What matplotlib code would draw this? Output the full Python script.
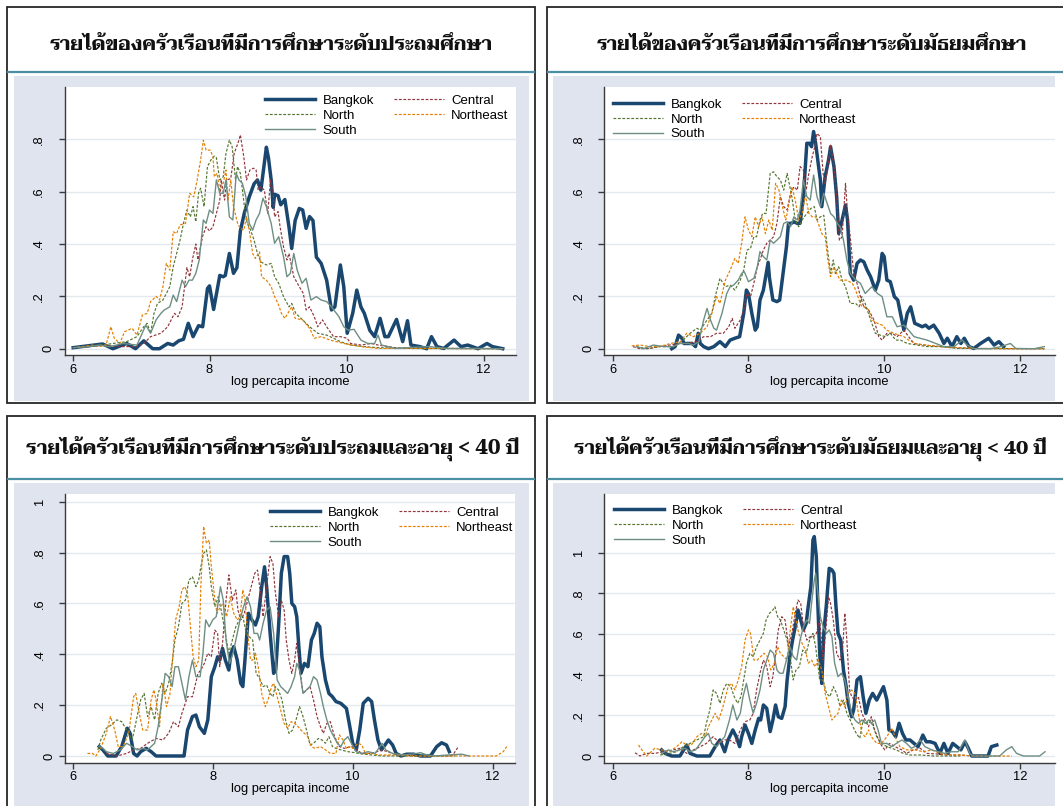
import matplotlib
matplotlib.use("Agg")
import matplotlib.pyplot as plt
from matplotlib import font_manager, ft2font
from matplotlib.patches import Rectangle
from matplotlib.lines import Line2D
from matplotlib.transforms import ScaledTranslation

# ---------------------------------------------------------------- data
# Kernel density of log per-capita household income, by region.
# Each series is a list of (log income, density) points.

region_names = ["Bangkok", "Central", "North", "Northeast", "South"]
x_ticks = [6, 8, 10, 12]
x_tick_labels = ["6", "8", "10", "12"]
y_ticks_small = [0, 0.2, 0.4, 0.6, 0.8]
y_ticks_large = [0, 0.2, 0.4, 0.6, 0.8, 1.0]
y_tick_labels_small = ["0", ".2", ".4", ".6", ".8"]
y_tick_labels_large = ["0", ".2", ".4", ".6", ".8", "1"]
x_title = "log percapita income"

titles = [
    "รายได้ของครัวเรือนที่มีการศึกษาระดับประถมศึกษา",
    "รายได้ของครัวเรือนที่มีการศึกษาระดับมัธยมศึกษา",
    "รายได้ครัวเรือนที่มีการศึกษาระดับประถมและอายุ < 40 ปี",
    "รายได้ครัวเรือนที่มีการศึกษาระดับมัธยมและอายุ < 40 ปี",
]

# --- primary education, all ages
tl_bangkok = [(6.01,.004),(6.44,.018),(6.59,0),(6.79,.02),(6.92,0),(7.04,.03),(7.17,0),(7.27,0),(7.39,.02),(7.47,.014),(7.55,.03),(7.62,.036),(7.69,.097),(7.76,.046),(7.84,.088),(7.9,.084),(7.97,.23),(8.0,.24),(8.06,.15),(8.15,.28),(8.2,.275),(8.23,.28),(8.29,.364),(8.35,.288),(8.4,.31),(8.45,.45),(8.51,.52),(8.58,.58),(8.65,.63),(8.7,.645),(8.75,.606),(8.83,.77),(8.86,.73),(8.9,.645),(8.93,.54),(8.95,.59),(9.0,.585),(9.04,.55),(9.1,.57),(9.16,.465),(9.2,.383),(9.25,.49),(9.31,.536),(9.36,.53),(9.41,.46),(9.46,.505),(9.51,.49),(9.56,.35),(9.63,.326),(9.71,.262),(9.78,.148),(9.83,.16),(9.91,.32),(9.96,.237),(10.01,.059),(10.09,.135),(10.15,.224),(10.21,.16),(10.26,.135),(10.34,.07),(10.41,.046),(10.49,.116),(10.56,.046),(10.61,.046),(10.73,.112),(10.82,.027),(10.89,.107),(10.94,.014),(11.07,.008),(11.17,0),(11.24,.046),(11.32,.008),(11.42,.001),(11.57,.033),(11.67,.008),(11.77,.014),(11.92,0),(12.05,.02),(12.13,.008),(12.28,0)]
tl_central = [(6.01,.004),(6.24,.008),(6.44,.014),(6.69,.008),(6.94,.008),(7.04,.02),(7.14,.046),(7.29,.059),(7.39,.084),(7.44,.11),(7.49,.135),(7.54,.122),(7.6,.16),(7.67,.31),(7.71,.275),(7.75,.34),(7.8,.40),(7.83,.34),(7.9,.43),(7.95,.466),(8.0,.45),(8.05,.466),(8.1,.517),(8.15,.568),(8.17,.645),(8.22,.568),(8.25,.645),(8.31,.65),(8.36,.746),(8.43,.797),(8.45,.817),(8.5,.734),(8.54,.645),(8.59,.683),(8.64,.69),(8.68,.683),(8.71,.606),(8.75,.619),(8.8,.606),(8.85,.517),(8.89,.645),(8.93,.594),(8.95,.504),(9.0,.524),(9.03,.466),(9.08,.39),(9.13,.339),(9.16,.364),(9.23,.275),(9.31,.237),(9.37,.211),(9.41,.148),(9.46,.16),(9.53,.122),(9.58,.084),(9.65,.11),(9.71,.084),(9.81,.046),(9.91,.046),(10.01,.04),(10.06,.02),(10.21,.014),(10.36,.02),(10.46,.014),(10.71,.004),(10.97,.001),(11.47,.001),(12.28,0)]
tl_north = [(6.01,.004),(6.19,.008),(6.44,.014),(6.59,.02),(6.79,.027),(6.94,.046),(7.04,.084),(7.09,.097),(7.14,.059),(7.19,.135),(7.24,.173),(7.32,.186),(7.37,.211),(7.42,.237),(7.47,.313),(7.52,.364),(7.57,.415),(7.62,.479),(7.67,.53),(7.72,.504),(7.76,.543),(7.8,.485),(7.84,.594),(7.87,.613),(7.92,.543),(7.97,.696),(8.02,.721),(8.07,.736),(8.1,.73),(8.15,.645),(8.2,.657),(8.24,.746),(8.29,.797),(8.33,.772),(8.38,.645),(8.41,.696),(8.45,.67),(8.51,.543),(8.55,.479),(8.6,.453),(8.65,.415),(8.7,.364),(8.75,.332),(8.83,.32),(8.9,.326),(8.95,.275),(9.01,.25),(9.08,.199),(9.16,.16),(9.2,.173),(9.26,.135),(9.36,.11),(9.46,.084),(9.58,.059),(9.71,.052),(9.81,.04),(9.91,.027),(10.06,.014),(10.26,.008),(10.46,.004),(10.96,.001),(12.28,0)]
tl_northeast = [(6.01,.004),(6.14,.008),(6.29,.014),(6.39,.008),(6.49,.014),(6.56,.084),(6.61,.04),(6.69,.02),(6.76,.065),(6.87,.078),(6.94,.052),(7.02,.129),(7.09,.135),(7.14,.18),(7.22,.2),(7.27,.186),(7.32,.237),(7.37,.326),(7.42,.3),(7.47,.447),(7.52,.44),(7.57,.473),(7.65,.479),(7.71,.594),(7.77,.58),(7.82,.645),(7.87,.721),(7.91,.797),(7.95,.759),(8.01,.759),(8.05,.734),(8.07,.657),(8.11,.67),(8.15,.606),(8.2,.632),(8.24,.683),(8.27,.568),(8.31,.645),(8.35,.543),(8.41,.479),(8.45,.46),(8.5,.453),(8.54,.504),(8.58,.453),(8.63,.364),(8.67,.345),(8.73,.37),(8.76,.275),(8.83,.262),(8.9,.237),(8.95,.199),(9.0,.173),(9.05,.135),(9.1,.116),(9.2,.16),(9.25,.116),(9.36,.11),(9.46,.078),(9.53,.04),(9.63,.046),(9.76,.033),(9.96,.02),(10.21,.008),(10.46,.001),(10.96,.001),(12.28,0)]
tl_south = [(6.01,.004),(6.24,.008),(6.39,.014),(6.54,.008),(6.74,.02),(6.94,.014),(7.07,.09),(7.14,.059),(7.22,.11),(7.29,.135),(7.34,.148),(7.42,.16),(7.47,.205),(7.52,.18),(7.6,.262),(7.65,.237),(7.7,.262),(7.75,.262),(7.8,.288),(7.85,.339),(7.91,.492),(7.95,.479),(8.0,.53),(8.05,.517),(8.1,.645),(8.15,.594),(8.2,.594),(8.24,.645),(8.29,.504),(8.34,.492),(8.39,.67),(8.43,.645),(8.48,.632),(8.53,.581),(8.58,.479),(8.63,.453),(8.68,.492),(8.73,.517),(8.78,.575),(8.83,.543),(8.9,.479),(8.95,.403),(9.01,.428),(9.08,.352),(9.13,.275),(9.18,.288),(9.23,.364),(9.28,.3),(9.35,.25),(9.41,.269),(9.48,.186),(9.56,.199),(9.63,.186),(9.71,.18),(9.78,.16),(9.89,.122),(9.96,.084),(10.02,.071),(10.11,.074),(10.21,.033),(10.31,.02),(10.41,.02),(10.46,.052),(10.51,.014),(10.71,.001),(10.96,.005),(11.21,.008),(11.47,.001),(11.97,.001),(12.28,0)]

# --- secondary education, all ages
tr_bangkok = [(6.87,0),(6.92,.008),(6.97,.052),(7.02,.04),(7.05,.02),(7.1,.02),(7.17,.02),(7.22,.008),(7.26,.059),(7.29,.02),(7.34,.008),(7.41,0),(7.49,.008),(7.58,.027),(7.66,.008),(7.73,.033),(7.8,.04),(7.87,.046),(7.93,.135),(7.97,.224),(8.0,.21),(8.05,.135),(8.1,.071),(8.13,.084),(8.17,.186),(8.22,.224),(8.29,.33),(8.31,.27),(8.36,.186),(8.42,.18),(8.46,.186),(8.51,.288),(8.56,.39),(8.59,.479),(8.63,.479),(8.67,.485),(8.72,.479),(8.76,.479),(8.81,.58),(8.86,.785),(8.9,.785),(8.93,.772),(8.96,.83),(8.99,.785),(9.04,.683),(9.06,.645),(9.08,.543),(9.13,.657),(9.18,.721),(9.21,.772),(9.26,.696),(9.3,.58),(9.33,.44),(9.38,.492),(9.43,.549),(9.46,.492),(9.5,.288),(9.55,.262),(9.6,.326),(9.65,.339),(9.7,.332),(9.75,.3),(9.8,.275),(9.87,.224),(9.92,.262),(9.97,.364),(10.0,.352),(10.04,.262),(10.09,.256),(10.15,.199),(10.2,.186),(10.24,.135),(10.29,.071),(10.34,.135),(10.39,.16),(10.45,.097),(10.51,.09),(10.56,.084),(10.61,.09),(10.66,.078),(10.73,.09),(10.81,.059),(10.88,.02),(10.93,.04),(11.0,.008),(11.07,.046),(11.13,.02),(11.18,.04),(11.25,.008),(11.32,.001),(11.42,.02),(11.54,.04),(11.62,.014),(11.69,.027),(11.76,.008)]
tr_central = [(6.3,.008),(6.4,0),(6.55,.001),(6.69,.008),(6.84,.014),(6.98,.02),(7.08,.02),(7.24,.027),(7.34,.046),(7.44,.046),(7.53,.059),(7.63,.059),(7.71,.084),(7.76,.116),(7.8,.078),(7.88,.11),(7.93,.148),(7.98,.211),(8.03,.198),(8.09,.262),(8.13,.313),(8.17,.339),(8.22,.377),(8.27,.403),(8.32,.415),(8.37,.428),(8.42,.479),(8.47,.581),(8.52,.543),(8.57,.53),(8.62,.594),(8.67,.619),(8.72,.606),(8.76,.696),(8.81,.683),(8.85,.606),(8.89,.67),(8.94,.734),(8.99,.785),(9.01,.823),(9.06,.81),(9.1,.67),(9.13,.632),(9.17,.696),(9.21,.778),(9.26,.696),(9.3,.58),(9.34,.415),(9.38,.428),(9.43,.632),(9.46,.517),(9.5,.428),(9.55,.288),(9.6,.25),(9.65,.199),(9.7,.16),(9.77,.148),(9.85,.11),(9.92,.046),(9.97,.033),(10.04,.059),(10.12,.059),(10.19,.046),(10.29,.071),(10.36,.046),(10.44,.02),(10.59,.014),(10.83,.008),(11.08,.004),(11.32,.001),(11.82,0),(12.36,0)]
tr_north = [(6.35,.008),(6.5,0),(6.69,.008),(6.89,.008),(7.04,.033),(7.14,.059),(7.24,.078),(7.29,.071),(7.39,.11),(7.46,.135),(7.51,.199),(7.58,.269),(7.66,.237),(7.73,.243),(7.8,.224),(7.88,.262),(7.93,.3),(7.98,.377),(8.03,.383),(8.08,.428),(8.12,.428),(8.17,.492),(8.21,.517),(8.26,.517),(8.32,.67),(8.37,.676),(8.42,.657),(8.47,.645),(8.52,.606),(8.57,.67),(8.59,.645),(8.64,.58),(8.69,.492),(8.74,.466),(8.79,.492),(8.86,.517),(8.92,.536),(8.97,.543),(9.01,.492),(9.06,.504),(9.11,.51),(9.16,.39),(9.21,.288),(9.25,.339),(9.28,.288),(9.33,.313),(9.38,.262),(9.43,.237),(9.5,.173),(9.58,.173),(9.63,.16),(9.67,.199),(9.72,.173),(9.8,.11),(9.87,.059),(9.94,.052),(10.02,.046),(10.09,.059),(10.17,.033),(10.24,.033),(10.34,.02),(10.49,.014),(10.63,.008),(10.83,.008),(11.08,.001),(11.32,.001),(12.36,0)]
tr_northeast = [(6.28,.011),(6.4,.014),(6.55,.008),(6.69,.008),(6.85,.02),(7.0,.027),(7.09,.059),(7.19,.046),(7.29,.059),(7.39,.084),(7.46,.135),(7.53,.199),(7.58,.173),(7.66,.262),(7.73,.3),(7.8,.345),(7.85,.326),(7.9,.403),(7.95,.504),(8.0,.453),(8.05,.428),(8.1,.504),(8.15,.466),(8.2,.504),(8.25,.44),(8.3,.492),(8.35,.453),(8.4,.632),(8.45,.606),(8.5,.543),(8.55,.492),(8.59,.543),(8.64,.619),(8.69,.568),(8.74,.492),(8.79,.517),(8.84,.587),(8.89,.517),(8.94,.504),(8.99,.504),(9.03,.479),(9.08,.44),(9.13,.428),(9.17,.339),(9.21,.275),(9.26,.313),(9.3,.288),(9.35,.262),(9.4,.262),(9.45,.262),(9.53,.25),(9.58,.224),(9.63,.186),(9.67,.16),(9.72,.16),(9.77,.148),(9.82,.11),(9.9,.097),(9.97,.09),(10.04,.071),(10.14,.059),(10.22,.052),(10.29,.046),(10.36,.033),(10.46,.02),(10.59,.014),(10.83,.008),(11.32,.001),(11.82,0),(12.36,0)]
tr_south = [(6.35,.008),(6.45,0),(6.6,.014),(6.75,.008),(6.89,.008),(6.99,.02),(7.12,.02),(7.19,.014),(7.27,.027),(7.34,.11),(7.39,.154),(7.44,.11),(7.49,.078),(7.53,.071),(7.61,.135),(7.68,.211),(7.73,.237),(7.78,.243),(7.85,.262),(7.9,.288),(7.94,.294),(8.0,.256),(8.08,.269),(8.13,.313),(8.17,.371),(8.22,.352),(8.27,.339),(8.32,.415),(8.37,.403),(8.42,.415),(8.47,.428),(8.52,.479),(8.57,.485),(8.62,.466),(8.67,.504),(8.72,.492),(8.76,.53),(8.81,.645),(8.86,.581),(8.91,.568),(8.96,.664),(9.01,.581),(9.06,.543),(9.11,.594),(9.16,.555),(9.21,.517),(9.26,.504),(9.31,.479),(9.35,.466),(9.4,.415),(9.45,.339),(9.5,.288),(9.58,.262),(9.65,.25),(9.72,.211),(9.82,.237),(9.9,.211),(9.97,.199),(10.04,.122),(10.12,.122),(10.19,.084),(10.29,.09),(10.36,.071),(10.44,.046),(10.54,.039),(10.63,.033),(10.76,.02),(10.88,.008),(11.03,.008),(11.15,.033),(11.22,.014),(11.32,0),(11.57,0),(11.72,.008),(11.86,.02),(11.94,.001),(12.21,0),(12.36,.008)]

# --- primary education, head aged under 40
bl_bangkok = [(6.38,.037),(6.43,.024),(6.5,0),(6.62,0),(6.7,.037),(6.78,.109),(6.82,.089),(6.87,.01),(6.92,0),(6.97,.017),(7.05,.03),(7.12,.017),(7.19,0),(7.59,0),(7.64,.102),(7.71,.155),(7.76,.161),(7.81,.115),(7.88,.089),(7.93,.142),(7.98,.312),(8.03,.351),(8.07,.39),(8.1,.377),(8.14,.423),(8.18,.377),(8.23,.338),(8.26,.404),(8.3,.43),(8.35,.377),(8.4,.286),(8.43,.273),(8.46,.377),(8.51,.561),(8.56,.535),(8.61,.515),(8.65,.548),(8.7,.666),(8.74,.744),(8.77,.666),(8.82,.482),(8.87,.325),(8.9,.338),(8.94,.508),(8.98,.718),(9.02,.784),(9.07,.784),(9.1,.718),(9.13,.6),(9.17,.587),(9.2,.548),(9.23,.43),(9.26,.325),(9.31,.364),(9.36,.351),(9.41,.456),(9.45,.482),(9.49,.522),(9.53,.508),(9.56,.39),(9.61,.299),(9.66,.246),(9.71,.233),(9.76,.214),(9.83,.207),(9.91,.187),(9.95,.128),(10.0,.05),(10.05,.024),(10.1,.102),(10.15,.207),(10.22,.227),(10.27,.214),(10.31,.142),(10.36,.063),(10.41,.024),(10.46,.043),(10.51,.063),(10.57,.043),(10.62,.01),(10.69,0),(10.77,.007),(10.87,.007),(10.97,0),(11.11,0),(11.2,.037),(11.27,.052),(11.34,.043),(11.38,.017)]
bl_central = [(6.48,.01),(6.63,0),(6.77,.01),(6.87,.024),(6.97,.03),(7.07,.05),(7.19,.069),(7.29,.063),(7.37,.089),(7.44,.135),(7.51,.115),(7.56,.168),(7.64,.233),(7.71,.233),(7.79,.325),(7.83,.338),(7.88,.364),(7.93,.404),(7.98,.39),(8.03,.495),(8.07,.482),(8.1,.351),(8.14,.443),(8.19,.613),(8.23,.712),(8.28,.613),(8.33,.653),(8.36,.574),(8.4,.535),(8.45,.561),(8.5,.613),(8.55,.666),(8.6,.718),(8.64,.731),(8.67,.666),(8.72,.548),(8.77,.666),(8.82,.784),(8.86,.757),(8.89,.653),(8.94,.548),(8.98,.613),(9.02,.574),(9.05,.456),(9.09,.377),(9.13,.325),(9.17,.377),(9.2,.443),(9.24,.351),(9.29,.246),(9.34,.26),(9.39,.273),(9.44,.22),(9.49,.155),(9.54,.115),(9.58,.089),(9.63,.128),(9.68,.135),(9.74,.076),(9.81,.037),(9.88,.03),(9.98,.037),(10.05,.026),(10.13,.01),(10.27,.01),(10.42,.024),(10.57,.01),(10.67,.004),(10.87,0),(11.36,0),(11.43,.004),(11.51,.037)]
bl_north = [(6.36,.024),(6.4,.063),(6.48,.109),(6.55,.122),(6.63,.142),(6.7,.135),(6.77,.102),(6.85,.063),(6.91,.142),(6.97,.22),(7.02,.246),(7.07,.155),(7.12,.194),(7.17,.142),(7.22,.246),(7.27,.286),(7.32,.246),(7.37,.286),(7.42,.364),(7.46,.456),(7.51,.508),(7.56,.6),(7.61,.613),(7.66,.692),(7.71,.705),(7.76,.666),(7.8,.692),(7.83,.744),(7.87,.797),(7.91,.81),(7.95,.744),(7.98,.666),(8.03,.587),(8.08,.626),(8.13,.561),(8.18,.482),(8.23,.404),(8.28,.456),(8.33,.508),(8.38,.535),(8.43,.548),(8.48,.482),(8.52,.469),(8.57,.456),(8.62,.325),(8.67,.305),(8.72,.273),(8.77,.279),(8.82,.246),(8.86,.233),(8.89,.273),(8.94,.26),(8.99,.22),(9.04,.142),(9.09,.089),(9.14,.102),(9.19,.142),(9.24,.194),(9.29,.155),(9.34,.102),(9.39,.043),(9.44,.05),(9.51,.069),(9.56,.063),(9.61,.05),(9.66,.076),(9.71,.037),(9.76,.03),(9.83,.024),(9.93,.017),(10.03,.013),(10.13,.008),(10.27,.004),(10.42,0),(10.87,0),(11.27,0),(11.46,0)]
bl_northeast = [(6.21,.01),(6.28,.01),(6.33,0),(6.4,.03),(6.48,.089),(6.54,.155),(6.6,.102),(6.65,.037),(6.72,.037),(6.8,.089),(6.87,.233),(6.9,.246),(6.95,.168),(7.0,.102),(7.07,.102),(7.12,.22),(7.16,.26),(7.19,.22),(7.24,.115),(7.29,.286),(7.34,.194),(7.39,.246),(7.44,.43),(7.47,.535),(7.52,.587),(7.56,.653),(7.6,.666),(7.64,.64),(7.69,.482),(7.72,.39),(7.76,.351),(7.8,.377),(7.83,.666),(7.87,.902),(7.91,.836),(7.95,.849),(7.98,.744),(8.02,.64),(8.06,.561),(8.11,.587),(8.15,.6),(8.2,.548),(8.25,.626),(8.3,.561),(8.35,.535),(8.39,.548),(8.43,.653),(8.46,.613),(8.5,.482),(8.54,.377),(8.57,.377),(8.61,.404),(8.65,.351),(8.7,.246),(8.75,.194),(8.79,.22),(8.84,.273),(8.87,.286),(8.92,.233),(8.97,.181),(9.02,.128),(9.07,.109),(9.12,.135),(9.17,.128),(9.22,.115),(9.26,.102),(9.31,.089),(9.36,.076),(9.41,.037),(9.46,.03),(9.54,.037),(9.61,.024),(9.68,.01),(9.76,.01),(9.81,.083),(9.86,.063),(9.91,.03),(9.95,.037),(10.0,.03),(10.08,.05),(10.13,.043),(10.18,.01),(10.27,.01),(10.37,.004),(10.62,.004),(10.87,0),(11.61,0),(12.05,0),(12.15,.017),(12.2,.037)]
bl_south = [(6.38,.037),(6.43,.03),(6.48,.017),(6.58,.01),(6.68,.024),(6.77,.05),(6.85,.037),(6.92,.024),(7.0,.03),(7.07,.024),(7.12,.037),(7.17,.05),(7.22,.115),(7.28,.233),(7.32,.325),(7.37,.312),(7.42,.273),(7.46,.351),(7.51,.351),(7.56,.286),(7.61,.22),(7.66,.312),(7.71,.377),(7.76,.312),(7.82,.312),(7.86,.404),(7.9,.535),(7.95,.508),(8.0,.535),(8.05,.548),(8.11,.666),(8.15,.613),(8.19,.456),(8.24,.364),(8.29,.404),(8.34,.469),(8.39,.535),(8.44,.587),(8.49,.626),(8.54,.587),(8.59,.482),(8.64,.482),(8.67,.456),(8.72,.522),(8.77,.574),(8.82,.587),(8.87,.482),(8.92,.299),(8.97,.273),(9.02,.26),(9.07,.246),(9.12,.273),(9.17,.312),(9.2,.364),(9.24,.338),(9.29,.246),(9.34,.26),(9.39,.273),(9.44,.312),(9.49,.299),(9.54,.246),(9.58,.194),(9.63,.142),(9.68,.102),(9.73,.076),(9.78,.05),(9.83,.037),(9.88,.063),(9.93,.076),(9.98,.05),(10.05,.017),(10.13,.01),(10.22,.017),(10.32,.01),(10.42,.05),(10.47,.024),(10.57,.01),(10.72,.004),(10.87,.008),(10.97,.013),(11.06,.004),(11.16,0),(11.36,.004),(11.56,.007),(11.66,0)]

# --- secondary education, head aged under 40
br_bangkok = [(6.72,.03),(6.77,.013),(6.87,0),(6.99,0),(7.09,.054),(7.14,.013),(7.24,0),(7.43,0),(7.51,.046),(7.58,.079),(7.65,.021),(7.7,.079),(7.77,.128),(7.82,.095),(7.87,.046),(7.9,.095),(7.95,.152),(8.0,.111),(8.05,.062),(8.1,.128),(8.15,.185),(8.18,.177),(8.22,.251),(8.27,.234),(8.32,.12),(8.36,.177),(8.4,.251),(8.44,.193),(8.49,.185),(8.54,.243),(8.57,.374),(8.61,.489),(8.65,.57),(8.69,.636),(8.73,.718),(8.77,.669),(8.81,.62),(8.85,.652),(8.88,.734),(8.92,.833),(8.95,1.062),(8.97,1.079),(9.0,.98),(9.02,.767),(9.05,.505),(9.08,.357),(9.11,.603),(9.15,.751),(9.19,.923),(9.23,.915),(9.26,.898),(9.29,.734),(9.32,.603),(9.36,.57),(9.4,.423),(9.44,.341),(9.47,.259),(9.52,.193),(9.55,.226),(9.6,.374),(9.65,.39),(9.69,.292),(9.73,.21),(9.78,.275),(9.83,.308),(9.89,.275),(9.94,.308),(9.99,.341),(10.04,.275),(10.07,.128),(10.12,.12),(10.17,.095),(10.22,.161),(10.27,.111),(10.32,.079),(10.38,.079),(10.44,.062),(10.5,.046),(10.57,.103),(10.62,.07),(10.68,.07),(10.75,.062),(10.82,.013),(10.88,.062),(10.94,.013),(11.01,.062),(11.07,.046),(11.13,.03),(11.19,.07),(11.24,.038),(11.29,0),(11.53,0),(11.58,.046),(11.66,.054)]
br_central = [(6.33,.016),(6.4,0),(6.5,.013),(6.62,.013),(6.75,.021),(6.89,.03),(6.99,.038),(7.09,.013),(7.19,.03),(7.29,.046),(7.38,.062),(7.48,.095),(7.58,.062),(7.65,.079),(7.72,.079),(7.8,.062),(7.88,.128),(7.95,.169),(8.02,.177),(8.07,.21),(8.12,.325),(8.17,.407),(8.22,.472),(8.27,.439),(8.32,.341),(8.36,.39),(8.4,.505),(8.44,.62),(8.49,.685),(8.54,.669),(8.59,.538),(8.64,.603),(8.69,.702),(8.73,.767),(8.77,.751),(8.81,.636),(8.86,.57),(8.91,.587),(8.96,.587),(9.0,.603),(9.05,.669),(9.1,.472),(9.14,.62),(9.18,.784),(9.21,.751),(9.25,.669),(9.3,.505),(9.35,.472),(9.39,.538),(9.42,.702),(9.45,.57),(9.49,.325),(9.52,.292),(9.57,.275),(9.62,.292),(9.67,.21),(9.72,.177),(9.77,.144),(9.81,.193),(9.86,.128),(9.94,.062),(10.01,.03),(10.08,.062),(10.16,.046),(10.26,.03),(10.33,.013),(10.43,.03),(10.53,.038),(10.63,.013),(10.77,.01),(10.92,.005),(11.12,.005),(11.31,0),(11.46,0)]
br_north = [(6.7,.005),(6.84,.013),(6.94,.021),(7.04,.046),(7.14,.062),(7.24,.079),(7.34,.095),(7.38,.161),(7.43,.226),(7.48,.325),(7.53,.308),(7.58,.259),(7.63,.325),(7.68,.357),(7.74,.341),(7.79,.292),(7.84,.259),(7.89,.292),(7.93,.374),(7.97,.456),(8.02,.505),(8.07,.489),(8.12,.538),(8.17,.57),(8.22,.603),(8.26,.669),(8.31,.702),(8.36,.718),(8.39,.734),(8.43,.685),(8.47,.669),(8.52,.62),(8.57,.57),(8.62,.472),(8.66,.374),(8.7,.423),(8.75,.439),(8.8,.521),(8.85,.505),(8.9,.57),(8.95,.603),(8.99,.538),(9.05,.374),(9.1,.374),(9.15,.308),(9.2,.292),(9.25,.341),(9.3,.308),(9.35,.243),(9.4,.275),(9.45,.21),(9.5,.177),(9.54,.144),(9.59,.111),(9.64,.087),(9.69,.177),(9.74,.161),(9.79,.177),(9.84,.144),(9.89,.095),(9.96,.062),(10.04,.046),(10.11,.038),(10.18,.03),(10.28,.013),(10.38,.005),(10.53,.005),(10.73,0),(11.12,0)]
br_northeast = [(6.38,.054),(6.43,.03),(6.5,0),(6.62,.038),(6.72,.03),(6.84,.021),(6.94,.046),(7.02,.07),(7.09,.054),(7.16,.054),(7.24,.095),(7.31,.111),(7.36,.095),(7.41,.144),(7.46,.177),(7.51,.21),(7.56,.177),(7.61,.226),(7.65,.275),(7.7,.341),(7.75,.357),(7.8,.325),(7.85,.374),(7.9,.439),(7.95,.57),(8.0,.62),(8.03,.603),(8.08,.472),(8.13,.472),(8.18,.489),(8.23,.505),(8.28,.489),(8.33,.423),(8.38,.456),(8.43,.538),(8.47,.505),(8.52,.489),(8.57,.472),(8.61,.603),(8.66,.734),(8.7,.669),(8.74,.603),(8.79,.554),(8.84,.521),(8.88,.456),(8.93,.472),(8.98,.439),(9.03,.472),(9.08,.423),(9.13,.308),(9.18,.243),(9.23,.177),(9.27,.193),(9.32,.21),(9.37,.275),(9.42,.243),(9.47,.308),(9.52,.325),(9.57,.308),(9.62,.21),(9.67,.111),(9.72,.095),(9.77,.128),(9.81,.095),(9.89,.062),(9.96,.062),(10.04,.095),(10.11,.136),(10.16,.095),(10.23,.046),(10.33,.03),(10.45,.03),(10.58,.021),(10.7,.03),(10.82,.013),(10.97,.005),(11.12,.005),(11.31,0),(11.88,0)]
br_south = [(6.72,.013),(6.82,.03),(6.89,.021),(6.99,.03),(7.07,.038),(7.14,.021),(7.22,.03),(7.29,.062),(7.36,.095),(7.41,.111),(7.46,.062),(7.53,.046),(7.61,.079),(7.65,.095),(7.72,.177),(7.77,.251),(7.83,.177),(7.88,.21),(7.92,.292),(7.97,.357),(8.02,.275),(8.07,.21),(8.12,.259),(8.17,.325),(8.22,.423),(8.27,.472),(8.32,.521),(8.37,.505),(8.42,.423),(8.46,.407),(8.51,.407),(8.56,.472),(8.61,.538),(8.66,.489),(8.71,.472),(8.76,.57),(8.81,.636),(8.86,.669),(8.9,.652),(8.93,.751),(8.97,.866),(8.99,.898),(9.03,.784),(9.06,.685),(9.1,.636),(9.15,.603),(9.19,.62),(9.23,.587),(9.27,.456),(9.32,.39),(9.37,.407),(9.42,.374),(9.47,.292),(9.52,.21),(9.57,.177),(9.62,.161),(9.67,.177),(9.72,.161),(9.77,.177),(9.81,.161),(9.86,.177),(9.91,.128),(9.96,.062),(10.04,.062),(10.11,.046),(10.18,.062),(10.26,.079),(10.33,.062),(10.4,.038),(10.45,.046),(10.53,.079),(10.6,.046),(10.7,.03),(10.8,.021),(10.89,.013),(10.99,.021),(11.09,.021),(11.19,.079),(11.26,.013),(11.31,0),(11.7,0),(11.8,.03),(11.88,.046),(11.95,.013),(12.05,0),(12.29,0),(12.37,.021)]

panel_series = [
    [tl_bangkok, tl_central, tl_north, tl_northeast, tl_south],
    [tr_bangkok, tr_central, tr_north, tr_northeast, tr_south],
    [bl_bangkok, bl_central, bl_north, bl_northeast, bl_south],
    [br_bangkok, br_central, br_north, br_northeast, br_south],
]

# ---------------------------------------------------------------- style
W, H = 1063, 806
NAVY, MAROON, GREEN, ORANGE, TEAL = "#1A476F", "#90353B", "#55752F", "#E37E00", "#6E8E84"
line_styles = [
    dict(color=NAVY, lw=2.5, ls="-"),
    dict(color=MAROON, lw=0.85, ls=(0, (2.0, 1.2))),
    dict(color=GREEN, lw=0.85, ls=(0, (2.0, 1.2))),
    dict(color=ORANGE, lw=0.85, ls=(0, (2.0, 1.2))),
    dict(color=TEAL, lw=1.0, ls="-"),
]
OUTER_BG = "#E0E4EF"
GRID = "#E3E9EF"
RULE = "#4A8FA3"
FRAME = "#262626"
AXIS = "#3A3A3A"

plt.rcParams["lines.scale_dashes"] = False
plt.rcParams["font.family"] = ["Liberation Sans", "DejaVu Sans"]


def thai_family():
    """A Thai-capable family, preferring a looped serif face with a bold weight."""
    preferred = ["Taviraj", "Trirong", "Maitree", "Pridi", "Sarabun", "Noto Serif Thai",
                 "Noto Sans Thai", "Loma", "FreeSerif"]
    found = {}
    for fe in font_manager.fontManager.ttflist:
        try:
            cmap = ft2font.FT2Font(fe.fname).get_charmap()
        except Exception:
            continue
        if 0x0E23 in cmap and 0x0E35 in cmap:
            w = fe.weight if isinstance(fe.weight, int) else 400
            found.setdefault(fe.name, set()).add(w)
    for name in preferred:
        if name in found and max(found[name]) >= 700:
            return name
    for name in preferred:
        if name in found:
            return name
    if found:
        return sorted(found)[0]
    return "DejaVu Sans"


THAI = thai_family()

fig = plt.figure(figsize=(W / 100, H / 100), dpi=100)
fig.patch.set_facecolor("white")


def fx(x):
    return x / W


def fy(y):
    return 1 - y / H


def box(x0, y0, x1, y1, **kw):
    fig.add_artist(Rectangle((fx(x0), fy(y1)), (x1 - x0) / W, (y1 - y0) / H,
                             transform=fig.transFigure, **kw))


def hline(x0, x1, y, **kw):
    fig.add_artist(Line2D([fx(x0), fx(x1)], [fy(y), fy(y)], transform=fig.transFigure, **kw))


# pixel layout of each panel
panels = [
    dict(frame=(7, 7.3, 535, 403.3), rule=(8, 534, 72), bg=(14, 76, 529, 401),
         ax=(64.7, 87.3, 516, 355.3), xlim=(5.886, 12.474), ylim=(-0.0252, 0.999),
         yt=(y_ticks_small, y_tick_labels_small), title=(271, 45, 441), leg=(265, 94.7)),
    dict(frame=(546.7, 7.3, 1090, 403.3), rule=(548, 1063, 72), bg=(553, 76, 1055, 401),
         ax=(604.3, 87.3, 1055, 355.3), xlim=(5.876, 12.517), ylim=(-0.0252, 0.999),
         yt=(y_ticks_small, y_tick_labels_small), title=(812, 45, 430), leg=(613, 98.4)),
    dict(frame=(7, 415.5, 535, 840), rule=(8, 534, 479), bg=(14, 483.3, 529, 815),
         ax=(65.3, 494.3, 515, 762.7), xlim=(5.894, 12.318), ylim=(-0.0264, 1.029),
         yt=(y_ticks_large, y_tick_labels_large), title=(273, 448, 491), leg=(270, 506.7)),
    dict(frame=(546.7, 415.5, 1090, 840), rule=(548, 1063, 479), bg=(553, 483.3, 1055, 815),
         ax=(604.3, 494.3, 1055, 762.7), xlim=(5.876, 12.517), ylim=(-0.0329, 1.287),
         yt=(y_ticks_large, y_tick_labels_large), title=(810, 448, 474), leg=(614, 504.7)),
]

renderer = fig.canvas.get_renderer()

for p, series, title in zip(panels, panel_series, titles):
    box(*p["frame"], facecolor="white", edgecolor=FRAME, lw=1.3, zorder=0)
    box(*p["bg"], facecolor=OUTER_BG, edgecolor="none", zorder=1)
    x0, x1, yr = p["rule"]
    hline(x0, x1, yr, color=RULE, lw=1.6, zorder=2)

    cx, cy, tw = p["title"]
    t = fig.text(fx(cx), fy(cy), title, ha="center", va="center", fontsize=20,
                 family=[THAI, "Liberation Serif", "DejaVu Serif"], weight="bold", color="#111111")
    w = t.get_window_extent(renderer).width
    t.set_fontsize(20 * tw / w)

    l, tp, r, b = p["ax"]
    ax = fig.add_axes([fx(l), fy(b), (r - l) / W, (b - tp) / H])
    ax.set_facecolor("white")
    ax.set_zorder(3)
    for s in ("top", "right"):
        ax.spines[s].set_visible(False)
    for s in ("left", "bottom"):
        ax.spines[s].set_color(AXIS)
        ax.spines[s].set_linewidth(1.0)

    handles = []
    for pts, style, name in zip(series, line_styles, region_names):
        xs = [q[0] for q in pts]
        ys = [q[1] for q in pts]
        ln, = ax.plot(xs, ys, label=name, solid_joinstyle="round", **style)
        handles.append(ln)

    ax.set_xlim(*p["xlim"])
    ax.set_ylim(*p["ylim"])
    ax.set_xticks(x_ticks)
    ax.set_xticklabels(x_tick_labels, fontsize=9.3)
    yt, ytl = p["yt"]
    ax.set_yticks(yt)
    ax.set_yticklabels([])
    ax.tick_params(axis="both", direction="out", length=4.2, width=1.0, color=AXIS)
    ax.tick_params(axis="x", pad=2.0)
    ax.yaxis.grid(True, color=GRID, lw=1.0)
    ax.set_axisbelow(True)
    ax.set_xlabel(x_title, fontsize=9.3, labelpad=0)

    # rotated y labels; the bare zero sits a little closer to the axis
    for v, s in zip(yt, ytl):
        dx = -15.7 if s == "0" else -25.5
        off = ScaledTranslation(dx / 100, 0, fig.dpi_scale_trans)
        ax.text(0, v, s, transform=ax.get_yaxis_transform() + off, rotation=90,
                ha="center", va="center", fontsize=9.3, clip_on=False)

    order = [0, 2, 4, 1, 3]
    lx, ly = p["leg"]
    ax.legend([handles[i] for i in order], [region_names[i] for i in order],
              ncol=2, loc="upper left", bbox_to_anchor=(fx(lx), fy(ly)),
              bbox_transform=fig.transFigure, frameon=False, fontsize=9.5,
              handlelength=3.8, handletextpad=0.55, columnspacing=1.5,
              labelspacing=0.2, borderpad=0, borderaxespad=0)

fig.savefig("out.png", dpi=100, facecolor="white")
